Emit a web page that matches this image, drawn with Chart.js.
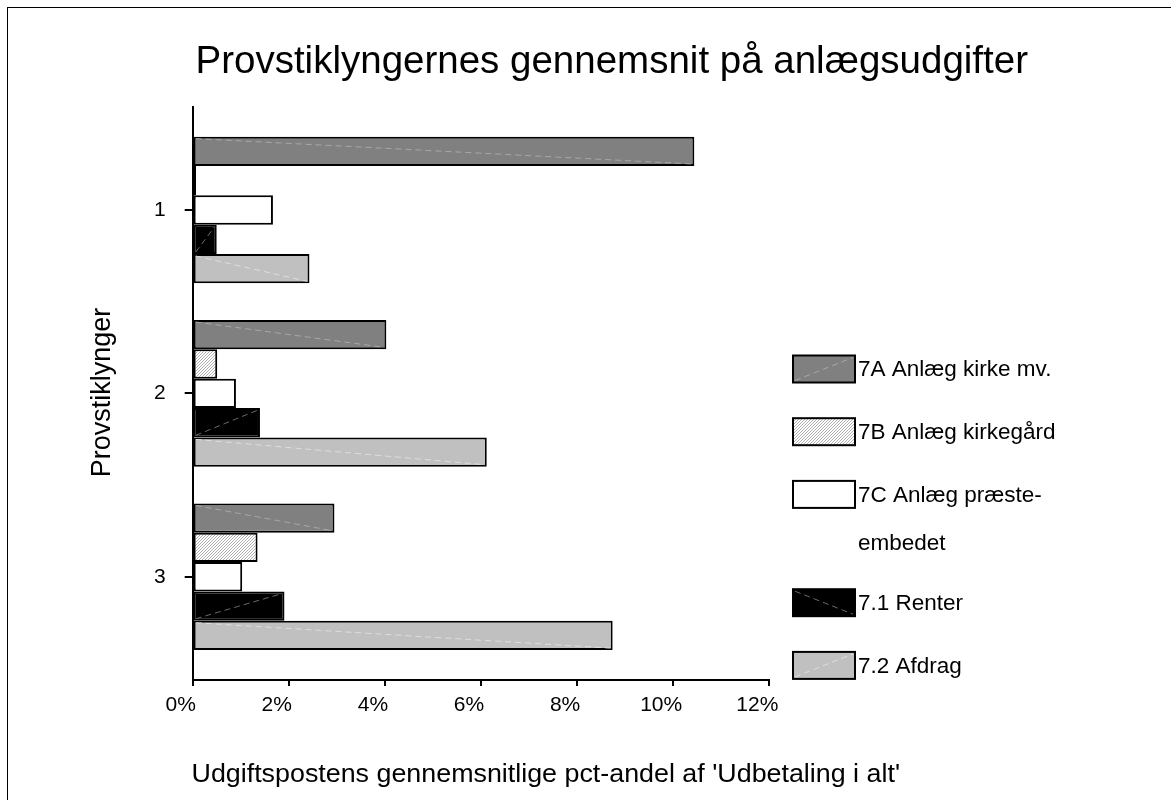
<!DOCTYPE html>
<html>
<head>
<meta charset="utf-8">
<script src="https://cdn.jsdelivr.net/npm/chart.js@4.4.1/dist/chart.umd.min.js"></script>
<style>
  html, body { margin: 0; padding: 0; background: #fff; }
  #wrap { position: absolute; left: 0; top: 0; width: 1171px; height: 800px; }
</style>
</head>
<body>
<div id="wrap"><canvas id="c"></canvas></div>
<script>
// ---- data ----
const chartTitle = 'Provstiklyngernes gennemsnit på anlægsudgifter';
const yTitle = 'Provstiklynger';
const xTitle = "Udgiftspostens gennemsnitlige pct-andel af 'Udbetaling i alt'";
const categories = ['1', '2', '3'];
const xTicks = [0, 2, 4, 6, 8, 10, 12];
const seriesLabels = ['7A Anlæg kirke mv.', '7B Anlæg kirkegård', ['7C Anlæg præste-', 'embedet'], '7.1 Renter', '7.2 Afdrag'];
const s7A = [10.44, 4.03, 2.95];
const s7B = [0.07, 0.51, 1.35];
const s7C = [1.67, 0.90, 1.03];
const s71 = [0.50, 1.40, 1.91];
const s72 = [2.43, 6.12, 8.74];

const FONT = "'Liberation Sans', Arial, sans-serif";

function hatchPattern() {
  const p = document.createElement('canvas');
  p.width = 3; p.height = 3;
  const g = p.getContext('2d');
  g.fillStyle = '#ffffff'; g.fillRect(0, 0, 3, 3);
  g.fillStyle = '#b0b0b0';
  for (let i = 0; i < 3; i++) g.fillRect(i, 2 - i, 1, 1);
  return g.createPattern(p, 'repeat');
}
const ctx0 = document.getElementById('c').getContext('2d');
const pat = hatchPattern();

const fills = ['#808080', pat, '#ffffff', '#000000', '#c0c0c0'];
// streak: [color, direction] direction 1 = top-left to bottom-right, -1 = bottom-left to top-right
const streaks = [['#a8a8a8', 1], null, null, ['#6a6a6a', -1], ['#dedede', 1]];
const legendStreaks = [['#a8a8a8', -1], null, null, ['#6a6a6a', 1], ['#dedede', -1]];

const series = [s7A, s7B, s7C, s71, s72];
const datasets = series.map((vals, k) => ({
  label: seriesLabels[k],
  data: vals.map((v, i) => ({ x: v, y: Number(categories[i]) })),
  backgroundColor: fills[k],
  borderColor: '#000',
  borderWidth: 2,
  borderSkipped: false,
  categoryPercentage: 0.8,
  barPercentage: 1.0
}));

function fitText(c, text, x0, x1, y) {
  const w = c.measureText(text).width;
  const k = (x1 - x0) / w;
  c.save();
  c.translate(x0, y);
  c.scale(k, 1);
  c.textAlign = 'left';
  c.fillText(text, 0, 0);
  c.restore();
}

const decor = {
  id: 'decor',
  afterDatasetsDraw(chart) {
    const c = chart.ctx;
    chart.data.datasets.forEach((ds, k) => {
      const st = streaks[k];
      if (!st) return;
      chart.getDatasetMeta(k).data.forEach(el => {
        const p = el.getProps(['x', 'y', 'base', 'height'], true);
        const top = p.y - p.height / 2 + 2, bot = p.y + p.height / 2 - 2;
        c.save();
        c.strokeStyle = st[0]; c.lineWidth = 1; c.setLineDash([6, 4]);
        c.beginPath();
        if (st[1] === 1) { c.moveTo(p.base + 2, top); c.lineTo(p.x - 2, bot); }
        else { c.moveTo(p.base + 2, bot); c.lineTo(p.x - 2, top); }
        c.stroke();
        c.restore();
      });
    });
  },
  afterDraw(chart) {
    const c = chart.ctx;
    c.save();
    // frame (extends past the right and bottom edges of the picture)
    c.strokeStyle = '#000'; c.lineWidth = 1;
    c.strokeRect(7.5, 7.5, 1220, 900);
    // title
    c.fillStyle = '#000';
    c.font = '38.5px ' + FONT;
    c.textBaseline = 'alphabetic';
    c.textAlign = 'left';
    c.fillText(chartTitle, 195.5, 73);
    // x title
    c.font = '26px ' + FONT;
    fitText(c, xTitle, 191.5, 900, 782);
    // y title
    c.save();
    c.translate(103, 392.5);
    c.rotate(-Math.PI / 2);
    c.font = '27px ' + FONT;
    c.textAlign = 'center';
    c.textBaseline = 'middle';
    c.fillText(yTitle, 0, 0);
    c.restore();
    // legend
    let cy = 369;
    c.font = '22.5px ' + FONT;
    c.textAlign = 'left'; c.textBaseline = 'middle';
    chart.data.datasets.forEach((ds, k) => {
      const bx = 793, bw = 62, bh = 27, by = cy - bh / 2;
      c.fillStyle = ds.backgroundColor;
      c.fillRect(bx, by, bw, bh);
      const st = legendStreaks[k];
      if (st) {
        c.save();
        c.strokeStyle = st[0]; c.lineWidth = 1; c.setLineDash([6, 4]);
        c.beginPath();
        if (st[1] === 1) { c.moveTo(bx + 2, by + 2); c.lineTo(bx + bw - 2, by + bh - 2); }
        else { c.moveTo(bx + 2, by + bh - 2); c.lineTo(bx + bw - 2, by + 2); }
        c.stroke();
        c.restore();
      }
      c.strokeStyle = '#000'; c.lineWidth = 2;
      c.strokeRect(bx, by, bw, bh);
      c.fillStyle = '#000';
      const lines = Array.isArray(ds.label) ? ds.label : [ds.label];
      lines.forEach((t, j) => c.fillText(t, 858, cy + 1 + j * 48.5));
      cy += 62.7 + (lines.length - 1) * 45.6;
    });
    c.restore();
  }
};

new Chart(ctx0, {
  type: 'bar',
  data: { datasets },
  options: {
    indexAxis: 'y',
    responsive: true,
    maintainAspectRatio: false,
    animation: false,
    events: [],
    layout: { padding: { left: 132, top: 107.3, right: 401.7, bottom: 80 } },
    plugins: {
      legend: { display: false },
      title: { display: false },
      tooltip: { enabled: false }
    },
    scales: {
      x: {
        type: 'linear',
        min: 0, max: 12,
        offset: false,
        afterBuildTicks: s => { s.ticks = xTicks.map(v => ({ value: v })); },
        afterFit: s => { s.height = 40; },
        ticks: {
          callback: v => v + '%',
          color: '#000',
          font: { family: FONT, size: 21 },
          padding: 7,
          labelOffset: -12,
          maxRotation: 0
        },
        grid: { display: true, offset: false, drawOnChartArea: false, drawTicks: true, tickLength: 6, color: '#000', lineWidth: 2 },
        border: { display: true, color: '#000', width: 2 }
      },
      y: {
        type: 'linear',
        reverse: true,
        offset: false,
        min: 0.44, max: 3.563,
        afterBuildTicks: s => { s.ticks = categories.map(c => ({ value: Number(c) })); },
        afterFit: s => { s.width = 60.7; },
        ticks: {
          callback: v => categories[categories.indexOf(String(v))],
          color: '#000',
          font: { family: FONT, size: 21 },
          padding: 19
        },
        grid: { display: true, offset: false, drawOnChartArea: false, drawTicks: true, tickLength: 8, color: '#000', lineWidth: 2 },
        border: { display: true, color: '#000', width: 2 }
      }
    }
  },
  plugins: [decor]
});
</script>
</body>
</html>
